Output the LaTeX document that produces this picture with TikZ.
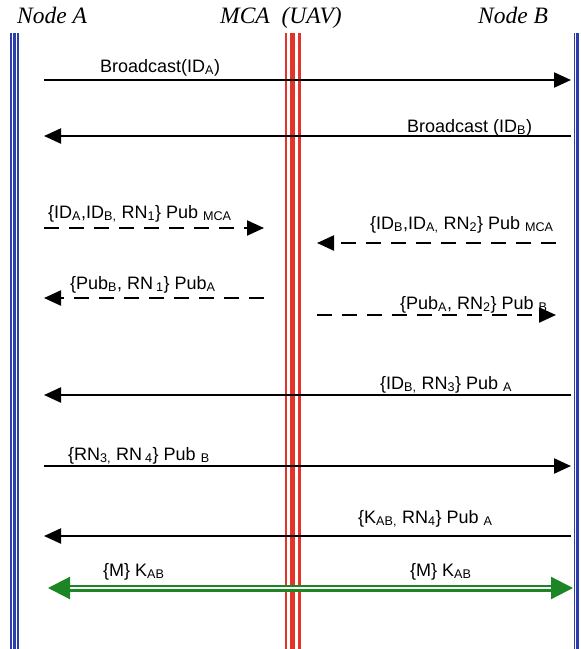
\documentclass[tikz,border=0pt]{standalone}
\usepackage{fontspec}
\setmainfont{Liberation Sans}
\newfontfamily\hdfont{Liberation Serif}
\usetikzlibrary{arrows.meta}
\definecolor{lblue}{RGB}{44,62,172}
\definecolor{lred}{RGB}{226,52,40}
\definecolor{grn}{RGB}{28,134,36}
\newcommand{\sbs}[1]{\textsubscript{#1}}
\tikzset{
  hd/.style={font=\hdfont\itshape\fontsize{23.5}{26}\selectfont,
             inner sep=0pt, anchor=base},
  lbl/.style={font=\fontsize{18}{20}\selectfont, inner sep=0pt, anchor=base west},
  ar/.style={-{Triangle[length=17pt, width=15pt]}, line width=2.2pt, black},
  dar/.style={ar, dash pattern=on 15pt off 10pt},
  gar/.style={{Triangle[length=22pt, width=22pt]}-{Triangle[length=22pt, width=22pt]},
              draw=grn, line width=2.2pt, double=white, double distance=2.6pt},
}

\begin{document}
\begin{tikzpicture}[x=1pt, y=-1pt]
\useasboundingbox (0,0) rectangle (581,649);

%% ============================================================
%% HEADERS AND LIFELINES
%% ============================================================
\node[hd] (hA) at (52,23)  {Node A};
\node[hd] (hM) at (281,23) {MCA\ \ (UAV)};
\node[hd] (hB) at (513,23) {Node B};

\coordinate (tA) at (14.4,33);  \coordinate (bA) at (14.4,650);
\coordinate (tM) at (292.3,33); \coordinate (bM) at (292.3,650);
\coordinate (tB) at (577.9,33); \coordinate (bB) at (577.9,650);

\foreach \dx/\w in {-3.4/1.5, 0/3, 3.6/1.5}{
  \draw[lblue, line width=\w pt] ([xshift=\dx pt]tA) -- ([xshift=\dx pt]bA);
  \draw[lblue, line width=\w pt] ([xshift=\dx pt]tB) -- ([xshift=\dx pt]bB);
}
\foreach \dx/\w in {-6.3/2.6, 0/5.6, 7/2.6}
  \draw[lred, line width=\w pt] ([xshift=\dx pt]tM) -- ([xshift=\dx pt]bM);

%% ============================================================
%% MESSAGE ENDS (columns) AND ROWS
%% ============================================================
\coordinate (cL)  at (44,0);
\coordinate (cR)  at (571,0);
\coordinate (cML) at (264,0);
\coordinate (cMR) at (317,0);
\coordinate (cRd) at (556,0);

\coordinate (r1) at (0,80);
\coordinate (r2) at (0,136);
\coordinate (r3) at (0,228);
\coordinate (r4) at (0,298);
\coordinate (r5) at (0,243);
\coordinate (r6) at (0,315);
\coordinate (r7) at (0,395);
\coordinate (r8) at (0,466);
\coordinate (r9) at (0,536);
\coordinate (r10) at (0,588);

%% --- broadcasts ---
\draw[ar] (cL |- r1) -- (cR |- r1);
\node[lbl] (l1) at (100,72) {Broadcast(ID\sbs{A})};
\draw[ar] (cR |- r2) -- (cL |- r2);
\node[lbl] (l2) at (407,132) {Broadcast (ID\sbs{B})};

%% --- via MCA (dashed) ---
\draw[dar] (cL |- r3) -- (cML |- r3);
\node[lbl] (l3) at (48,218) {\{ID\sbs{A},ID\sbs{B,} RN\sbs{1}\} Pub \sbs{MCA}};
\draw[dar] (cML |- r4) -- (cL |- r4);
\node[lbl] (l4) at (70,289) {\{Pub\sbs{B}, RN\,\sbs{1}\} Pub\sbs{A}};
\draw[dar] (cRd |- r5) -- (cMR |- r5);
\node[lbl] (l5) at (370,229) {\{ID\sbs{B},ID\sbs{A,} RN\sbs{2}\} Pub \sbs{MCA}};
\draw[dar] (cMR |- r6) -- (cRd |- r6);
\node[lbl] (l6) at (400,309) {\{Pub\sbs{A}, RN\sbs{2}\} Pub \sbs{B}};

%% --- direct exchange ---
\draw[ar] (cR |- r7) -- (cL |- r7);
\node[lbl] (l7) at (380,389) {\{ID\sbs{B,} RN\sbs{3}\} Pub \sbs{A}};
\draw[ar] (cL |- r8) -- (cR |- r8);
\node[lbl] (l8) at (68,460) {\{RN\sbs{3,} RN\,\sbs{4}\} Pub \sbs{B}};
\draw[ar] (cR |- r9) -- (cL |- r9);
\node[lbl] (l9) at (358,523) {\{K\sbs{AB,} RN\sbs{4}\} Pub \sbs{A}};

%% --- session key ---
\draw[gar] ([xshift=4pt]cL |- r10) -- ([xshift=2pt]cR |- r10);
\node[lbl] (l10) at (103,576) {\{M\} K\sbs{AB}};
\node[lbl] (l11) at (410,576) {\{M\} K\sbs{AB}};

\end{tikzpicture}
\end{document}
